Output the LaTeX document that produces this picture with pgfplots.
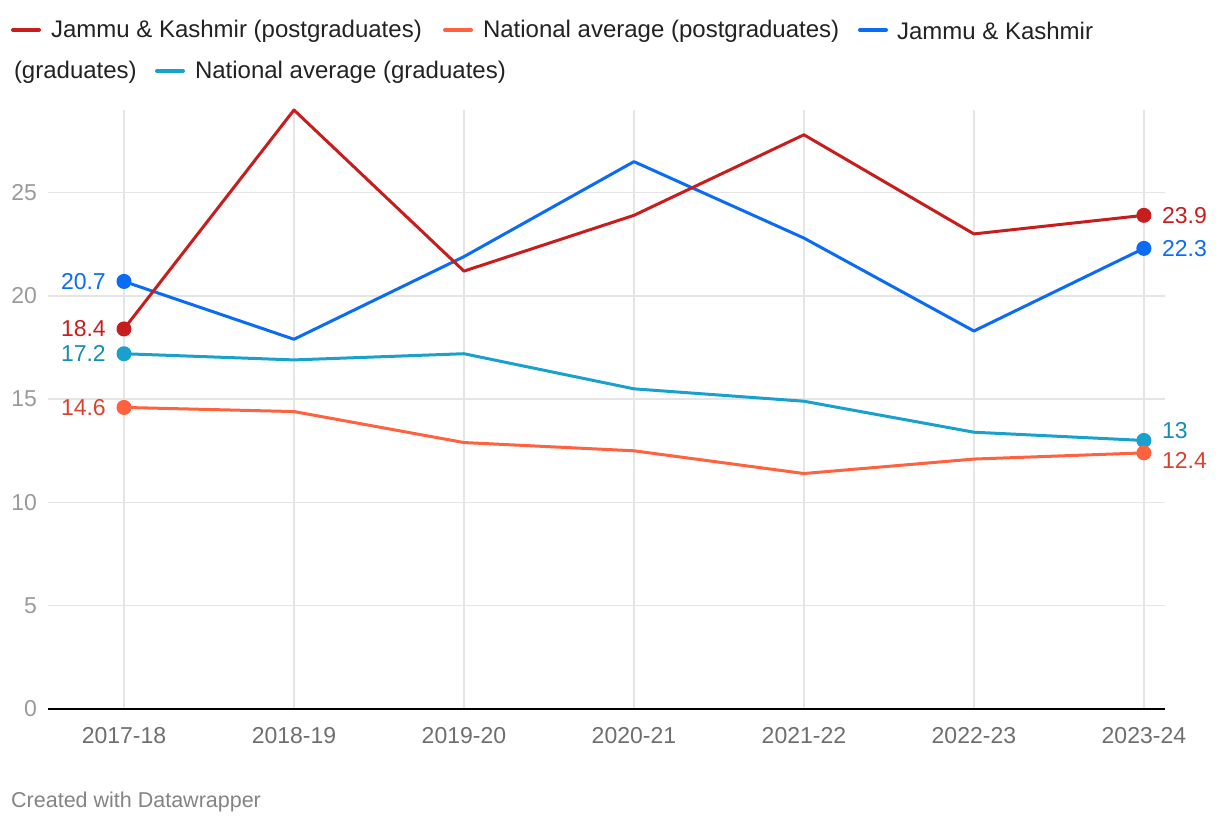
\documentclass[border=0pt]{standalone}
\usepackage{fontspec}
\setmainfont{Liberation Sans}
\usepackage{pgfplots}
\pgfplotsset{compat=1.18}

\definecolor{jkpg}{HTML}{C71E1D}
\definecolor{napg}{HTML}{FE623F}
\definecolor{napglab}{HTML}{D9432D}
\definecolor{jkg}{HTML}{0A6CF5}
\definecolor{nag}{HTML}{18A1CD}
\definecolor{naglab}{HTML}{1A8BB3}
\definecolor{gridc}{HTML}{E5E5E5}
\definecolor{ylab}{HTML}{9A9A9A}
\definecolor{xlab}{HTML}{6E6E6E}
\definecolor{legtext}{HTML}{222222}

\begin{document}
\begin{tikzpicture}[x=1pt,y=1pt]
\useasboundingbox (0,0) rectangle (1220,826);
\fontsize{23}{27}\selectfont

% legend (drawn by hand so that it wraps like the original)
\begin{scope}[line width=4pt, line cap=round,
    every node/.style={anchor=west, inner sep=0pt, text=legtext, font=\fontsize{24}{28}\selectfont}]
  \draw[jkpg] (13,796) -- (39,796);
  \node at (49,795) {Jammu \& Kashmir (postgraduates)};
  \draw[napg] (445,796) -- (471,796);
  \node at (481,795) {National average (postgraduates)};
  \draw[jkg] (860,796) -- (886,796);
  \node at (895,795) {Jammu \& Kashmir};
  \node at (12,754) {(graduates)};
  \draw[nag] (157,755) -- (183,755);
  \node at (193,754) {National average (graduates)};
\end{scope}

\node[anchor=west, inner sep=0pt, text=xlab!85, font=\fontsize{21.5}{25}\selectfont] at (11,24) {Created with Datawrapper};

\begin{axis}[
  at={(48pt,117pt)}, anchor=south west,
  scale only axis, width=1117pt, height=599pt,
  xmin=-0.447, xmax=6.124, ymin=0, ymax=29,
  axis x line=bottom, axis y line=left,
  x axis line style={-, black, line width=2.5pt},
  y axis line style={draw=none},
  xtick={0,...,6},
  xticklabels={2017-18,2018-19,2019-20,2020-21,2021-22,2022-23,2023-24},
  ytick={0,5,10,15,20,25},
  tick style={draw=none},
  grid=major,
  major grid style={gridc, line width=1.5pt},
  xticklabel style={text=xlab, font=\fontsize{23}{27}\selectfont, yshift=-8pt},
  yticklabel style={text=ylab, font=\fontsize{23}{27}\selectfont, anchor=east, xshift=-1pt},
  /pgf/number format/assume math mode=true,
  clip=false,
  every axis plot/.append style={line width=3pt, line join=round},
]
% National average (graduates)
\addplot[nag, mark=none] coordinates {
  (0,17.2)(1,16.9)(2,17.2)(3,15.5)(4,14.9)(5,13.4)(6,13.0)};
% National average (postgraduates)
\addplot[napg, mark=none] coordinates {
  (0,14.6)(1,14.4)(2,12.9)(3,12.5)(4,11.4)(5,12.1)(6,12.4)};
% Jammu & Kashmir (graduates)
\addplot[jkg, mark=none] coordinates {
  (0,20.7)(1,17.9)(2,21.9)(3,26.5)(4,22.8)(5,18.3)(6,22.3)};
% Jammu & Kashmir (postgraduates)
\addplot[jkpg, mark=none] coordinates {
  (0,18.4)(1,29.0)(2,21.2)(3,23.9)(4,27.8)(5,23.0)(6,23.9)};

% end points
\addplot[only marks, mark=*, mark size=6pt, nag] coordinates {(0,17.2)(6,13.0)};
\addplot[only marks, mark=*, mark size=6pt, napg] coordinates {(0,14.6)(6,12.4)};
\addplot[only marks, mark=*, mark size=6pt, jkg] coordinates {(0,20.7)(6,22.3)};
\addplot[only marks, mark=*, mark size=6pt, jkpg] coordinates {(0,18.4)(6,23.9)};

% value labels
\begin{scope}[every node/.style={inner sep=0pt, font=\fontsize{23}{27}\selectfont}]
  \node[anchor=east, text=jkg]     at ([xshift=-18pt]axis cs:0,20.7) {20.7};
  \node[anchor=east, text=jkpg]    at ([xshift=-18pt]axis cs:0,18.4) {18.4};
  \node[anchor=east, text=naglab]  at ([xshift=-18pt]axis cs:0,17.2) {17.2};
  \node[anchor=east, text=napglab] at ([xshift=-18pt]axis cs:0,14.6) {14.6};
  \node[anchor=west, text=jkpg]    at ([xshift=18pt]axis cs:6,23.9) {23.9};
  \node[anchor=west, text=jkg]     at ([xshift=18pt]axis cs:6,22.3) {22.3};
  \node[anchor=west, text=naglab]  at ([xshift=18pt,yshift=10pt]axis cs:6,13.0) {13};
  \node[anchor=west, text=napglab] at ([xshift=18pt,yshift=-8pt]axis cs:6,12.4) {12.4};
\end{scope}
\end{axis}
\end{tikzpicture}
\end{document}
